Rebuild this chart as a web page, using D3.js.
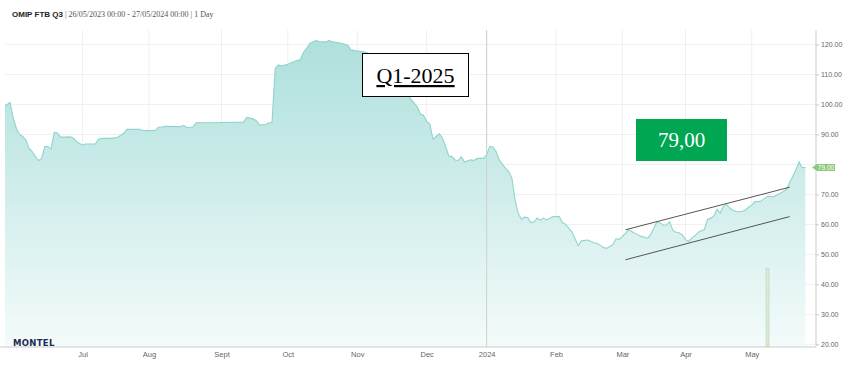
<!DOCTYPE html>
<html>
<head>
<meta charset="utf-8">
<script src="https://cdn.jsdelivr.net/npm/d3@7"></script>
<style>
  html, body { margin: 0; padding: 0; background: #fff; }
  svg { display: block; }
  .tick text { font-family: "Liberation Sans", Arial, sans-serif; fill: #666; }
</style>
</head>
<body>
<svg id="chart" width="849" height="374"></svg>
<script>
(function() {

  // Price series (trading days).
  var priceDates = [
    "2023-05-26","2023-05-29","2023-05-30","2023-05-31","2023-06-01","2023-06-02","2023-06-05","2023-06-06",
    "2023-06-07","2023-06-08","2023-06-09","2023-06-12","2023-06-13","2023-06-14","2023-06-15","2023-06-16",
    "2023-06-19","2023-06-20","2023-06-21","2023-06-22","2023-06-23","2023-06-26","2023-06-27","2023-06-28",
    "2023-06-29","2023-06-30","2023-07-03","2023-07-04","2023-07-07","2023-07-10","2023-07-11","2023-07-14",
    "2023-07-18","2023-07-20","2023-07-21","2023-07-27","2023-07-28","2023-08-03","2023-08-04","2023-08-07",
    "2023-08-08","2023-08-15","2023-08-16","2023-08-17","2023-08-18","2023-08-21","2023-08-22","2023-08-31",
    "2023-09-01","2023-09-12","2023-09-13","2023-09-15","2023-09-18","2023-09-19","2023-09-21","2023-09-22",
    "2023-09-25","2023-09-26","2023-09-27","2023-09-28","2023-10-02","2023-10-04","2023-10-06","2023-10-09",
    "2023-10-10","2023-10-11","2023-10-13","2023-10-16","2023-10-18","2023-10-19","2023-10-20","2023-10-25",
    "2023-10-27","2023-10-30","2023-11-01","2023-11-03","2023-11-08","2023-11-13","2023-11-16","2023-11-21",
    "2023-11-23","2023-11-27","2023-11-28","2023-11-29","2023-11-30","2023-12-01","2023-12-04","2023-12-05",
    "2023-12-06","2023-12-07","2023-12-08","2023-12-11","2023-12-12","2023-12-13","2023-12-14","2023-12-15",
    "2023-12-18","2023-12-19","2023-12-20","2023-12-21","2023-12-22","2023-12-27","2023-12-29","2024-01-02",
    "2024-01-03","2024-01-04","2024-01-05","2024-01-08","2024-01-09","2024-01-10","2024-01-11","2024-01-12",
    "2024-01-15","2024-01-16","2024-01-17","2024-01-18","2024-01-19","2024-01-22","2024-01-23","2024-01-24",
    "2024-01-25","2024-01-26","2024-01-29","2024-01-31","2024-02-02","2024-02-05","2024-02-06","2024-02-08",
    "2024-02-09","2024-02-12","2024-02-13","2024-02-15","2024-02-19","2024-02-20","2024-02-21","2024-02-22",
    "2024-02-23","2024-02-26","2024-02-27","2024-02-28","2024-02-29","2024-03-01","2024-03-04","2024-03-05",
    "2024-03-06","2024-03-07","2024-03-08","2024-03-11","2024-03-12","2024-03-13","2024-03-14","2024-03-15",
    "2024-03-18","2024-03-19","2024-03-20","2024-03-21","2024-03-22","2024-03-25","2024-03-26","2024-03-27",
    "2024-03-28","2024-04-02","2024-04-03","2024-04-04","2024-04-05","2024-04-08","2024-04-09","2024-04-10",
    "2024-04-11","2024-04-12","2024-04-15","2024-04-16","2024-04-17","2024-04-18","2024-04-19","2024-04-22",
    "2024-04-23","2024-04-24","2024-04-25","2024-04-26","2024-04-29","2024-04-30","2024-05-02","2024-05-03",
    "2024-05-06","2024-05-07","2024-05-08","2024-05-09","2024-05-10","2024-05-13","2024-05-14","2024-05-15",
    "2024-05-16","2024-05-17","2024-05-20","2024-05-21","2024-05-22","2024-05-23","2024-05-24","2024-05-27"
  ];
  var priceValues = [
    99.6, 99.6, 99.9, 100.7, 95.4, 92.0, 90.0, 89.3,
    88.2, 85.4, 84.3, 82.6, 81.3, 82.0, 86.0, 86.0,
    85.2, 90.7, 90.5, 89.1, 89.1, 89.1, 89.2, 88.8,
    87.7, 87.0, 86.5, 86.8, 86.8, 88.4, 88.7, 88.7,
    89.0, 90.4, 91.7, 91.7, 91.3, 91.3, 92.4, 92.4,
    92.7, 92.6, 93.0, 92.3, 92.3, 92.5, 93.9, 93.9,
    94.0, 94.1, 95.7, 95.2, 94.6, 93.2, 93.3, 93.9,
    93.9, 112.0, 113.2, 112.8, 113.4, 114.3, 115.0, 117.5,
    118.7, 120.4, 121.3, 121.0, 120.8, 121.3, 121.0, 120.4,
    119.8, 118.2, 117.8, 117.6, 116.5, 114.5, 111.0, 106.5,
    103.0, 100.5, 99.2, 96.8, 96.4, 94.3, 93.5, 88.4,
    89.3, 90.2, 88.8, 86.0, 82.8, 82.6, 81.5, 81.3,
    82.6, 80.8, 81.2, 81.5, 81.3, 82.0, 82.0, 83.2,
    86.0, 85.8, 84.3, 81.5, 80.0, 78.7, 77.6, 75.4,
    68.2, 63.7, 61.7, 62.4, 62.3, 60.6, 60.8, 62.1,
    61.4, 62.1, 61.5, 62.6, 62.6, 60.6, 60.0, 57.5,
    55.2, 52.9, 54.5, 54.8, 53.9, 53.6, 53.0, 52.3,
    52.0, 52.6, 53.2, 55.2, 55.0, 56.0, 57.0, 58.2,
    57.6, 57.0, 56.5, 56.0, 55.7, 55.4, 56.6, 58.8,
    60.9, 60.5, 59.7, 59.8, 60.9, 58.0, 57.4, 57.2,
    56.5, 54.9, 54.3, 55.4, 56.2, 57.3, 57.9, 58.3,
    61.7, 62.0, 62.8, 65.0, 63.7, 66.0, 66.6, 65.5,
    64.7, 64.3, 64.2, 64.4, 64.8, 65.7, 66.4, 67.6,
    67.6, 67.8, 68.6, 69.4, 69.3, 69.2, 69.8, 70.3,
    71.0, 71.7, 74.0, 76.0, 78.2, 80.9, 78.9, 79.0
  ];

  // Market holidays (no trading day on the axis).
  var holidays = ["2023-12-25", "2023-12-26", "2024-01-01", "2024-03-29", "2024-04-01", "2024-05-01"];

  // Month ticks (first trading day) and labels.
  var monthTicks = ["2023-07-03","2023-08-01","2023-09-01","2023-10-02","2023-11-01","2023-12-01",
                    "2024-01-02","2024-02-01","2024-03-01","2024-04-02","2024-05-02"];
  var monthLabels = ["Jul", "Aug", "Sept", "Oct", "Nov", "Dec", "2024", "Feb", "Mar", "Apr", "May"];

  // Y axis ticks (80 sits under the last value flag).
  var yTicks = [20, 30, 40, 50, 60, 70, 80, 90, 100, 110, 120];
  var yHiddenLabels = [80];

  // Drawn trend channel: [start date, start value, end date, end value].
  var trendLines = [
    ["2024-03-04", 58.2, "2024-05-20", 72.4],
    ["2024-03-04", 48.2, "2024-05-20", 62.6]
  ];

  // Volume bar.
  var volumeDates = ["2024-05-09"];
  var volumeValues = [45.4];

  var lastValue = 79.00;

  // Layout.
  var plotLeft = 5, plotRight = 816, plotTop = 30, plotBottom = 347;

  var parse = d3.timeParse("%Y-%m-%d");
  var fmt = d3.timeFormat("%Y-%m-%d");

  // Trading calendar: weekdays minus holidays.
  var start = parse("2023-05-26"), end = parse("2024-05-27");
  var tradingDays = d3.timeDay.range(start, d3.timeDay.offset(end, 1))
    .filter(function(d) { return d.getDay() % 6 !== 0 && holidays.indexOf(fmt(d)) < 0; });
  var dayIndex = {};
  tradingDays.forEach(function(d, i) { dayIndex[fmt(d)] = i; });

  var x = d3.scaleLinear().domain([0, tradingDays.length - 1]).range([0.6, 805.4]);
  var y = d3.scaleLinear().domain([20, 120]).range([344.3, 44.5]);
  var xd = function(s) { return x(dayIndex[s]); };

  var svg = d3.select("#chart");
  var defs = svg.append("defs");

  var grad = defs.append("linearGradient")
    .attr("id", "fillGrad")
    .attr("gradientUnits", "userSpaceOnUse")
    .attr("x1", 0).attr("y1", 40).attr("x2", 0).attr("y2", plotBottom);
  grad.append("stop").attr("offset", 0).attr("stop-color", "#ade0dc");
  grad.append("stop").attr("offset", 1).attr("stop-color", "#f4fbfb");

  defs.append("clipPath").attr("id", "plotClip")
    .append("rect")
    .attr("x", plotLeft).attr("y", plotTop)
    .attr("width", plotRight - plotLeft).attr("height", plotBottom - plotTop);

  // Title.
  var title = svg.append("text")
    .attr("x", 12).attr("y", 17)
    .attr("font-size", 8);
  title.append("tspan")
    .attr("font-family", "'Liberation Sans', Arial, sans-serif")
    .attr("font-weight", "bold")
    .attr("fill", "#222")
    .text("OMIP FTB Q3");
  title.append("tspan")
    .attr("font-family", "'Liberation Serif', Georgia, serif")
    .attr("fill", "#555")
    .text(" | 26/05/2023 00:00 - 27/05/2024 00:00 | 1 Day");

  // Grid lines.
  svg.append("g").selectAll("line")
    .data(yTicks)
    .enter().append("line")
    .attr("x1", plotLeft).attr("x2", plotRight)
    .attr("y1", function(d) { return y(d); })
    .attr("y2", function(d) { return y(d); })
    .attr("stroke", "#f0f0f0");

  svg.append("g").selectAll("line")
    .data(monthTicks)
    .enter().append("line")
    .attr("x1", function(d) { return xd(d); })
    .attr("x2", function(d) { return xd(d); })
    .attr("y1", plotTop).attr("y2", plotBottom)
    .attr("stroke", "#efefef");

  // Price area and line.
  var series = priceDates.map(function(d, i) { return [xd(d), priceValues[i]]; });

  var plot = svg.append("g").attr("clip-path", "url(#plotClip)");

  plot.append("path")
    .datum(series)
    .attr("fill", "url(#fillGrad)")
    .attr("d", d3.area()
      .x(function(d) { return d[0]; })
      .y0(plotBottom)
      .y1(function(d) { return y(d[1]); }));

  plot.append("path")
    .datum(series)
    .attr("fill", "none")
    .attr("stroke", "#8fd4cd")
    .attr("stroke-width", 1.1)
    .attr("d", d3.line()
      .x(function(d) { return d[0]; })
      .y(function(d) { return y(d[1]); }));

  // Year separator line.
  svg.append("line")
    .attr("x1", xd("2024-01-02")).attr("x2", xd("2024-01-02"))
    .attr("y1", plotTop).attr("y2", plotBottom)
    .attr("stroke", "#cfcfcf");

  // Volume bar.
  plot.selectAll(".vol")
    .data(volumeDates)
    .enter().append("rect")
    .attr("class", "vol")
    .attr("x", function(d) { return xd(d) - 1.5; })
    .attr("width", 3)
    .attr("y", function(d, i) { return y(volumeValues[i]); })
    .attr("height", function(d, i) { return plotBottom - y(volumeValues[i]); })
    .attr("fill", "#d8ecd6")
    .attr("stroke", "#b5d8b2")
    .attr("stroke-width", 0.6);

  // Trend channel.
  svg.append("g").selectAll("line")
    .data(trendLines)
    .enter().append("line")
    .attr("x1", function(d) { return xd(d[0]); })
    .attr("y1", function(d) { return y(d[1]); })
    .attr("x2", function(d) { return xd(d[2]); })
    .attr("y2", function(d) { return y(d[3]); })
    .attr("stroke", "#555")
    .attr("stroke-width", 1);

  // X axis.
  svg.append("line")
    .attr("x1", 0).attr("x2", plotRight)
    .attr("y1", plotBottom).attr("y2", plotBottom)
    .attr("stroke", "#ccc");

  var xAxis = svg.append("g")
    .attr("transform", "translate(0," + plotBottom + ")")
    .call(d3.axisBottom(x)
      .tickValues(monthTicks.map(function(d) { return dayIndex[d]; }))
      .tickFormat(function(d, i) { return monthLabels[i]; })
      .tickSize(0)
      .tickPadding(5));
  xAxis.select(".domain").remove();
  xAxis.selectAll("text").attr("font-size", 7.5);

  // Y axis on the right.
  var yAxis = svg.append("g")
    .attr("transform", "translate(" + plotRight + ",0)")
    .call(d3.axisRight(y)
      .tickValues(yTicks)
      .tickFormat(function(d) { return yHiddenLabels.indexOf(d) < 0 ? d3.format(".2f")(d) : ""; })
      .tickSize(3)
      .tickPadding(2));
  yAxis.select(".domain").remove();
  yAxis.selectAll("line").attr("stroke", "#ccc");
  yAxis.selectAll("text").attr("font-size", 7);

  svg.append("line")
    .attr("x1", plotRight).attr("x2", plotRight)
    .attr("y1", plotTop).attr("y2", plotBottom)
    .attr("stroke", "#ccc");

  // Last value flag.
  var fy = y(lastValue);
  svg.append("path")
    .attr("d", "M" + (plotRight - 4) + "," + fy +
               "L" + (plotRight + 1) + "," + (fy - 3.5) +
               "H" + (plotRight + 19) + "V" + (fy + 3.5) +
               "H" + (plotRight + 1) + "Z")
    .attr("fill", "#8cc97c");
  svg.append("text")
    .attr("x", plotRight + 10).attr("y", fy + 2.4)
    .attr("text-anchor", "middle")
    .attr("font-family", "'Liberation Sans', Arial, sans-serif")
    .attr("font-size", 6.5)
    .attr("fill", "#fff")
    .text(d3.format(".2f")(lastValue));

  // Montel logo.
  svg.append("text")
    .attr("x", 13).attr("y", 346)
    .attr("font-family", "'DejaVu Sans', sans-serif")
    .attr("font-weight", "bold")
    .attr("font-size", 8.5)
    .attr("letter-spacing", 0.3)
    .attr("fill", "#1d2a4d")
    .text("MONTEL");

  // Q1-2025 label box.
  svg.append("rect")
    .attr("x", 362.5).attr("y", 53.5)
    .attr("width", 106).attr("height", 43)
    .attr("fill", "#fff")
    .attr("stroke", "#000")
    .attr("stroke-width", 1);
  svg.append("text")
    .attr("x", 415.5).attr("y", 83)
    .attr("text-anchor", "middle")
    .attr("font-family", "'Liberation Serif', 'DejaVu Serif', serif")
    .attr("font-size", 22)
    .attr("text-decoration", "underline")
    .attr("fill", "#000")
    .text("Q1-2025");

  // Last price badge.
  svg.append("rect")
    .attr("x", 636).attr("y", 119)
    .attr("width", 91).attr("height", 42)
    .attr("fill", "#00a651");
  svg.append("text")
    .attr("x", 681.5).attr("y", 147)
    .attr("text-anchor", "middle")
    .attr("font-family", "'Liberation Serif', 'DejaVu Serif', serif")
    .attr("font-size", 21)
    .attr("fill", "#fff")
    .text("79,00");

})();
</script>
</body>
</html>
